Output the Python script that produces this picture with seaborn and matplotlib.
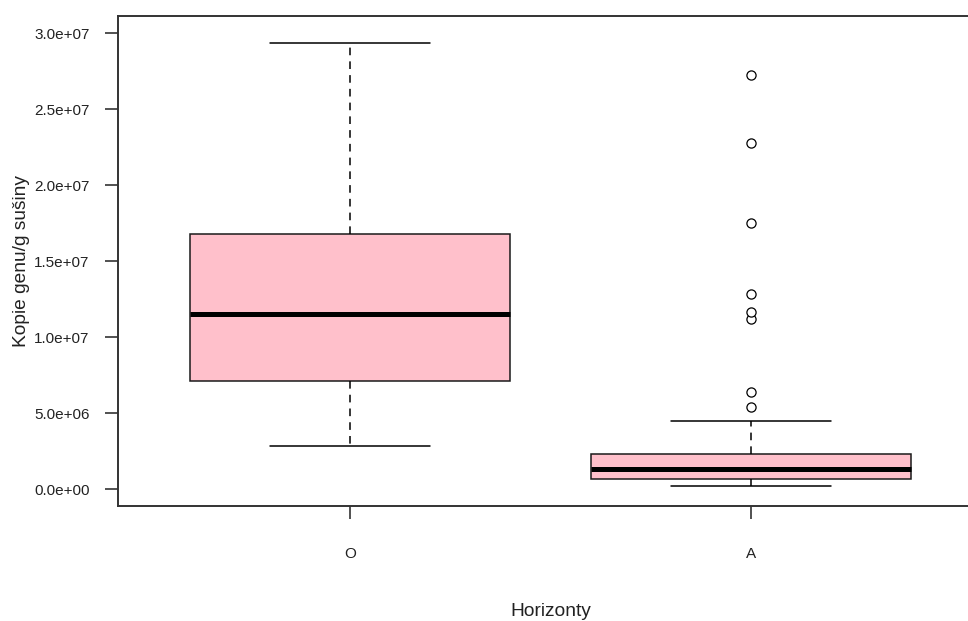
import numpy as np
import pandas as pd
import matplotlib
matplotlib.use("Agg")
import matplotlib.pyplot as plt
from matplotlib.ticker import FuncFormatter
import seaborn as sns

# Gene copies per gram of dry soil, by soil horizon
horizons = ["O", "A"]
copies_O = [2.85e6, 7.12e6, 1.151e7, 1.678e7, 2.936e7]
copies_A = [
    2.4e5, 2.8e5, 3.2e5, 3.6e5, 4.0e5, 4.5e5, 5.0e5, 5.6e5, 6.1e5,
    6.6e5,
    7.3e5, 8.0e5, 8.7e5, 9.4e5, 1.01e6, 1.08e6, 1.15e6, 1.24e6,
    1.32e6,
    1.42e6, 1.52e6, 1.63e6, 1.74e6, 1.86e6, 1.98e6, 2.10e6, 2.21e6,
    2.32e6,
    4.51e6, 5.43e6, 6.38e6, 1.118e7, 1.164e7, 1.288e7, 1.75e7, 2.28e7, 2.726e7,
]
y_ticks = [0.0, 5.0e6, 1.0e7, 1.5e7, 2.0e7, 2.5e7, 3.0e7]

df = pd.DataFrame({
    "Horizonty": ["O"] * len(copies_O) + ["A"] * len(copies_A),
    "copies": copies_O + copies_A,
})

sns.set_style("white")
plt.rcParams["font.family"] = ["Liberation Sans", "DejaVu Sans"]

fig = plt.figure(figsize=(9.68, 6.21), dpi=100)
ax = fig.add_axes([118 / 968, 115 / 621, 865 / 968, 490.5 / 621])

sns.boxplot(
    data=df, x="Horizonty", y="copies", order=horizons,
    color="#FFC0CB", saturation=1, width=0.8, whis=1.5, ax=ax,
    linecolor="black", linewidth=1.1,
    boxprops={"edgecolor": "#1a1a1a", "linewidth": 1.1},
    medianprops={"color": "black", "linewidth": 3.6, "solid_capstyle": "butt"},
    whiskerprops={"color": "black", "linewidth": 1.1, "linestyle": (0, (5, 4))},
    capprops={"color": "black", "linewidth": 1.1},
    flierprops={"marker": "o", "markersize": 6.6, "markerfacecolor": "white",
                "markeredgecolor": "black", "markeredgewidth": 0.9},
)

ax.set_xlim(-0.58, 1.58)
ax.set_ylim(-1.10e6, 3.117e7)
ax.set_yticks(y_ticks)
ax.yaxis.set_major_formatter(FuncFormatter(lambda v, _: f"{v:.1e}"))

for side in ["left", "right", "top", "bottom"]:
    ax.spines[side].set_visible(True)
    ax.spines[side].set_color("#333333")
    ax.spines[side].set_linewidth(1.4)

ax.tick_params(axis="both", which="major", length=9.5, width=1.2,
               color="#333333", labelsize=11, labelcolor="#222222",
               left=True, bottom=True)
ax.tick_params(axis="y", pad=11)
ax.tick_params(axis="x", pad=20)

ax.set_xlabel("Horizonty", fontsize=13.8, color="#222222", labelpad=30)
ax.set_ylabel("Kopie genu/g sušiny", fontsize=13.8, color="#222222", labelpad=3)

fig.savefig("out.png", dpi=100)
